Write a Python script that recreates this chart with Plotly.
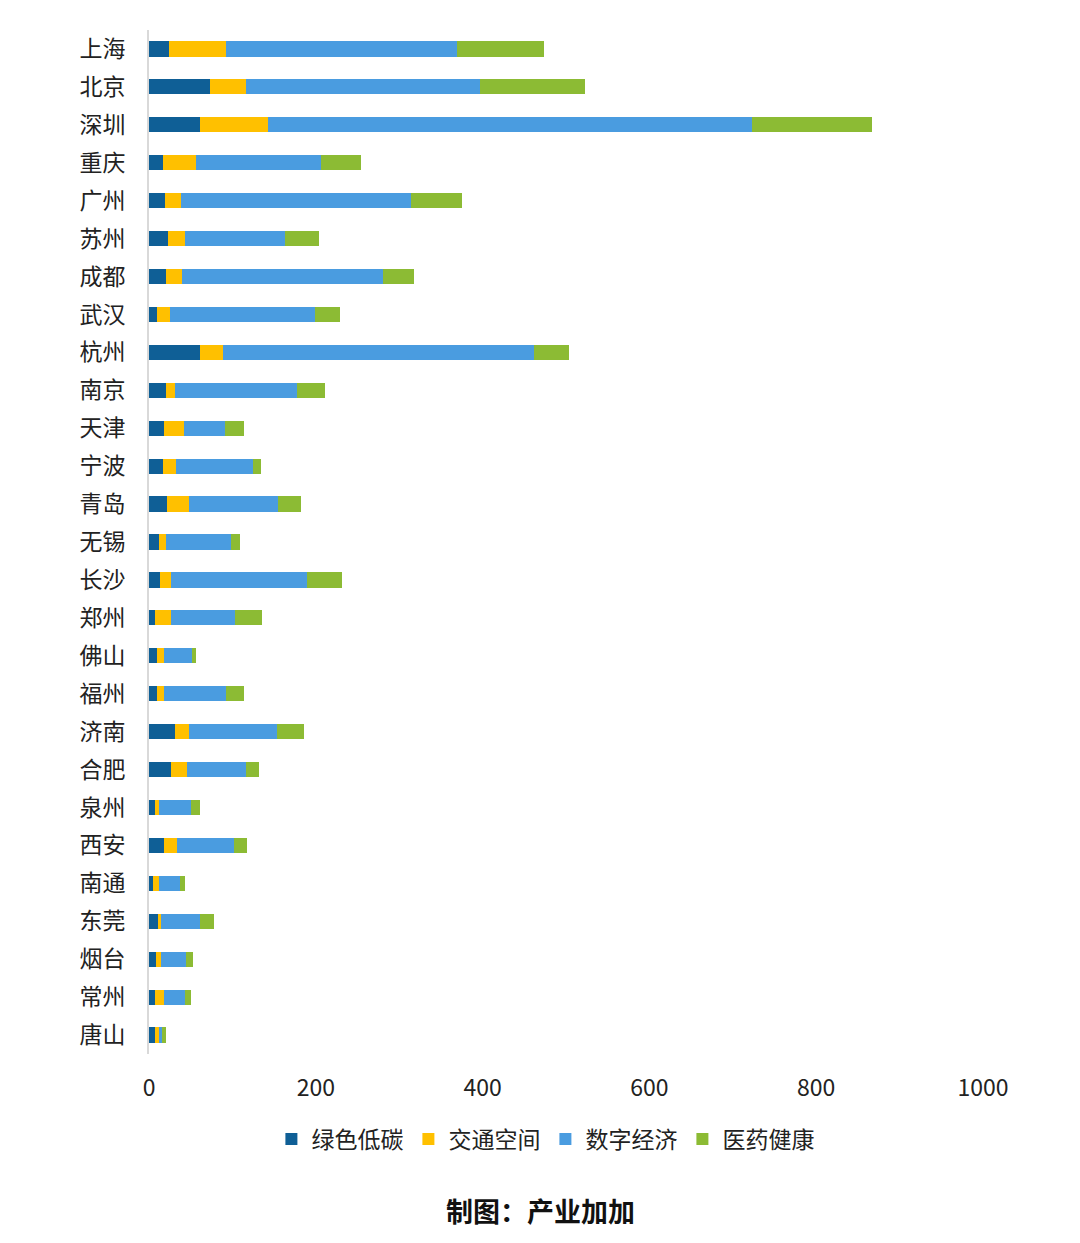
import plotly.graph_objects as go

cities = ["上海", "北京", "深圳", "重庆", "广州", "苏州", "成都", "武汉", "杭州", "南京",
          "天津", "宁波", "青岛", "无锡", "长沙", "郑州", "佛山", "福州", "济南", "合肥",
          "泉州", "西安", "南通", "东莞", "烟台", "常州", "唐山"]

green_lowcarbon = [24.3, 73.5, 61.5, 16.4, 18.8, 22.8, 20.8, 9.6, 61.5, 20.0,
                   18.0, 16.4, 22.0, 11.6, 13.6, 7.6, 10.0, 9.2, 31.5, 26.4,
                   7.2, 18.0, 5.2, 10.4, 8.0, 6.8, 7.6]
transport_space = [68.4, 42.8, 81.6, 39.6, 19.9, 20.7, 18.4, 15.6, 27.2, 10.8,
                   24.0, 16.4, 26.0, 8.4, 13.2, 19.2, 8.0, 8.8, 16.5, 19.5,
                   5.2, 15.6, 7.2, 4.0, 6.4, 11.2, 4.4]
digital_economy = [276.3, 280.6, 579.6, 150.6, 275.4, 119.9, 241.4, 173.5, 372.6, 146.3,
                   48.8, 92.3, 106.3, 78.0, 163.0, 76.3, 33.6, 74.3, 105.8, 70.4,
                   37.6, 67.9, 24.4, 46.8, 30.0, 25.5, 3.6]
medical_health = [104.8, 125.5, 144.2, 47.6, 60.8, 40.1, 37.1, 30.7, 42.3, 33.9,
                  23.5, 9.6, 28.0, 10.8, 41.6, 32.0, 4.8, 21.6, 32.1, 15.2,
                  10.8, 16.4, 6.7, 16.7, 8.0, 6.9, 4.8]

series_names = ["绿色低碳", "交通空间", "数字经济", "医药健康"]
series_values = [green_lowcarbon, transport_space, digital_economy, medical_health]
colors = ["#0F5F96", "#FFC000", "#4A9CE0", "#8CBB34"]

x_ticks = [0, 200, 400, 600, 800, 1000]

FONT = "Noto Sans CJK SC, Microsoft YaHei, sans-serif"

fig = go.Figure()
for name, vals, col in zip(series_names, series_values, colors):
    fig.add_trace(go.Bar(
        y=cities, x=vals, name=name, orientation="h",
        marker=dict(color=col, line=dict(width=0)),
    ))

fig.update_layout(
    barmode="stack",
    bargap=0.6,
    width=1080, height=1243,
    margin=dict(l=149, r=97, t=30, b=189),
    plot_bgcolor="white", paper_bgcolor="white",
    font=dict(family=FONT, color="#222222"),
    showlegend=True,
    legend=dict(
        orientation="h",
        xref="container", yref="container",
        x=0.505, y=1 - 1139 / 1243,
        xanchor="center", yanchor="middle",
        font=dict(size=23, family=FONT, color="#222222"),
        traceorder="normal",
        itemwidth=30,
    ),
    annotations=[dict(
        text="<b>制图：产业加加</b>",
        xref="paper", yref="paper",
        x=(540 - 149) / 834, y=(1054 - 1210) / 1024,
        xanchor="center", yanchor="middle",
        showarrow=False,
        font=dict(size=27, family=FONT, color="#111111"),
    )],
)

fig.update_xaxes(
    range=[0, 1000],
    tickvals=x_ticks,
    ticktext=[str(v) for v in x_ticks],
    showgrid=False, zeroline=False, showline=False,
    tickfont=dict(size=23, family=FONT, color="#222222"),
    ticks="outside", ticklen=13, tickcolor="rgba(0,0,0,0)",
)
fig.update_yaxes(
    categoryorder="array", categoryarray=cities,
    autorange="reversed",
    showgrid=False, zeroline=False,
    showline=True, linecolor="#D9D9D9", linewidth=2,
    tickfont=dict(size=23, family=FONT, color="#222222"),
    ticks="outside", ticklen=17, tickcolor="rgba(0,0,0,0)",
)

fig.write_html("out.html")
